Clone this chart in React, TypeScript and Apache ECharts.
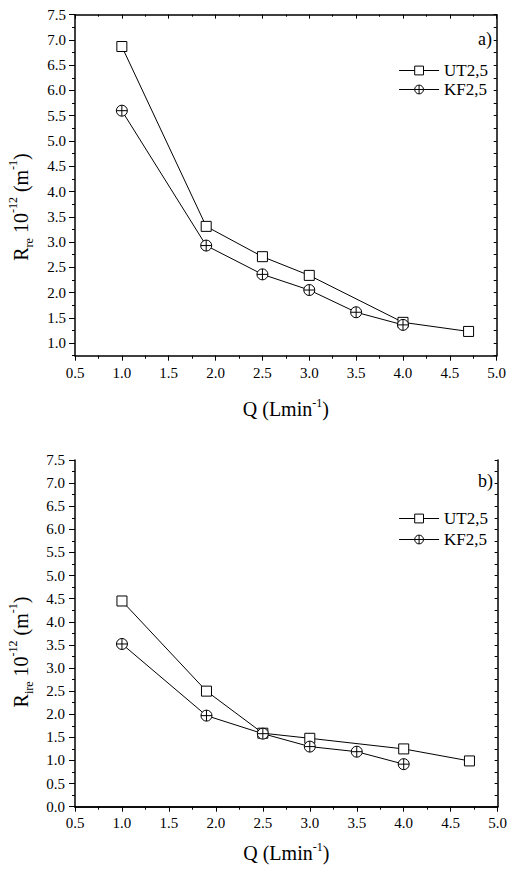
import React, { useEffect, useRef } from "react";
import * as echarts from "echarts";

// ---- data ----
const seriesNames = ["UT2,5", "KF2,5"];
const qA_UT = [1.0, 1.9, 2.5, 3.0, 4.0, 4.7];
const rA_UT = [6.87, 3.31, 2.71, 2.34, 1.41, 1.23];
const qA_KF = [1.0, 1.9, 2.5, 3.0, 3.5, 4.0];
const rA_KF = [5.6, 2.93, 2.36, 2.05, 1.61, 1.36];

const qB_UT = [1.0, 1.9, 2.5, 3.0, 4.0, 4.7];
const rB_UT = [4.45, 2.5, 1.59, 1.48, 1.25, 0.99];
const qB_KF = [1.0, 1.9, 2.5, 3.0, 3.5, 4.0];
const rB_KF = [3.52, 1.97, 1.58, 1.3, 1.19, 0.92];

const topYLabels = [1.0, 1.5, 2.0, 2.5, 3.0, 3.5, 4.0, 4.5, 5.0, 5.5, 6.0, 6.5, 7.0, 7.5];
const topYMinor = [0.75, 1.25, 1.75, 2.25, 2.75, 3.25, 3.75, 4.25, 4.75, 5.25, 5.75, 6.25, 6.75, 7.25];
const panelLabels = ["a)", "b)"];

const FONT = "Times New Roman, Liberation Serif, DejaVu Serif, serif";
const circlePlus =
  "path://M0,10A10,10,0,1,1,20,10A10,10,0,1,1,0,10ZM10,0L10,20M0,10L20,10";

const zip = (xs: number[], ys: number[]) => xs.map((x, i) => [x, ys[i]]);

export default function App() {
  const ref = useRef<HTMLDivElement>(null);
  useEffect(() => {
    if (!ref.current) return;
    const chart = echarts.init(ref.current, null, { renderer: "svg" });
    const axisLine = { show: true, lineStyle: { color: "#000", width: 1.5 } };
    const lbl = { color: "#000", fontFamily: FONT, fontSize: 15 };
    const xBottom = (gi: number, gap: number, margin: number) => ({
      type: "value",
      gridIndex: gi,
      position: "bottom",
      min: 0.5,
      max: 5.0,
      interval: 0.5,
      axisLine,
      axisTick: { show: true, inside: false, length: 5, lineStyle: { color: "#000", width: 1 } },
      minorTick: { show: true, splitNumber: 2, length: 3, lineStyle: { color: "#000", width: 1 } },
      axisLabel: { ...lbl, margin, formatter: (v: number) => v.toFixed(1) },
      splitLine: { show: false },
      minorSplitLine: { show: false },
      name: "{n|Q (Lmin}{sup|-1}{n|)}",
      nameLocation: "middle",
      nameGap: gap,
      nameTextStyle: {
        fontFamily: FONT,
        color: "#000",
        rich: {
          n: { fontFamily: FONT, fontSize: 20, color: "#000", lineHeight: 24, verticalAlign: "middle" },
          sup: { fontFamily: FONT, fontSize: 12, color: "#000", lineHeight: 12, verticalAlign: "top" },
        },
      },
    });
    const xTop = (gi: number) => ({
      type: "value",
      gridIndex: gi,
      position: "top",
      min: 0.5,
      max: 5.0,
      interval: 0.5,
      axisLine,
      axisTick: { show: true, inside: true, length: 4, lineStyle: { color: "#000", width: 1 } },
      minorTick: { show: true, splitNumber: 2, length: 2, lineStyle: { color: "#000", width: 1 } },
      axisLabel: { show: false },
      splitLine: { show: false },
    });

    const series = [
      { name: seriesNames[0], data: zip(qA_UT, rA_UT), xAxisIndex: 0, yAxisIndex: 0, symbol: "rect", symbolSize: 10 },
      { name: seriesNames[1], data: zip(qA_KF, rA_KF), xAxisIndex: 0, yAxisIndex: 0, symbol: circlePlus, symbolSize: 11 },
      { name: seriesNames[0], data: zip(qB_UT, rB_UT), xAxisIndex: 2, yAxisIndex: 3, symbol: "rect", symbolSize: 10 },
      { name: seriesNames[1], data: zip(qB_KF, rB_KF), xAxisIndex: 2, yAxisIndex: 3, symbol: circlePlus, symbolSize: 11 },
    ].map((s) => ({
      ...s,
      type: "line",
      color: "#000",
      showAllSymbol: true,
      lineStyle: { color: "#000", width: 1 },
      itemStyle: { color: "#fff", borderColor: "#000", borderWidth: 1 },
      z: 3,
    }));

    const legendCommon = {
      orient: "vertical",
      right: 17,
      itemWidth: 40,
      itemHeight: 11,
      itemGap: 2,
      textStyle: { fontFamily: FONT, fontSize: 17, color: "#000" },
      lineStyle: { color: "#000", width: 1 },
      itemStyle: { color: "#fff", borderColor: "#000", borderWidth: 1 },
      selectedMode: false,
      data: seriesNames,
    };

    const yTitle = (sub: string) =>
      `{n|R}{sub|${sub}}{n| 10}{sup|-12}{n| (m}{sup|-1}{n|)}`;
    const yTitleRich = {
      n: { fontFamily: FONT, fontSize: 20, fill: "#000", lineHeight: 28, verticalAlign: "middle" },
      sup: { fontFamily: FONT, fontSize: 12, fill: "#000", lineHeight: 12, verticalAlign: "top" },
      sub: { fontFamily: FONT, fontSize: 12, fill: "#000", lineHeight: 12, verticalAlign: "bottom" },
    };

    chart.setOption({
      animation: false,
      backgroundColor: "#fff",
      textStyle: { fontFamily: FONT },
      grid: [
        { left: 75, right: 13.3, top: 14.7, height: 341, containLabel: false },
        { left: 75, right: 8, top: 460, height: 346.7, containLabel: false },
      ],
      xAxis: [xBottom(0, 41, 10), xTop(0), xBottom(1, 34, 9), xTop(1)],
      yAxis: [
        {
          type: "value",
          gridIndex: 0,
          position: "left",
          min: 0.75,
          max: 7.5,
          axisLine,
          axisTick: { show: true, inside: false, length: 6, customValues: topYLabels, lineStyle: { color: "#000", width: 1 } },
          axisLabel: { ...lbl, margin: 9, customValues: topYLabels, formatter: (v: number) => v.toFixed(1) },
          splitLine: { show: false },
        },
        {
          type: "value",
          gridIndex: 0,
          position: "left",
          min: 0.75,
          max: 7.5,
          axisLine: { show: false },
          axisTick: { show: true, inside: false, length: 3, customValues: topYMinor, lineStyle: { color: "#000", width: 1 } },
          axisLabel: { show: false },
          splitLine: { show: false },
        },
        {
          type: "value",
          gridIndex: 0,
          position: "right",
          min: 0.75,
          max: 7.5,
          axisLine,
          axisTick: { show: true, inside: true, length: 3, customValues: [...topYMinor, ...topYLabels], lineStyle: { color: "#000", width: 1 } },
          axisLabel: { show: false },
          splitLine: { show: false },
        },
        {
          type: "value",
          gridIndex: 1,
          position: "left",
          min: 0,
          max: 7.5,
          interval: 0.5,
          axisLine,
          axisTick: { show: true, inside: false, length: 6, lineStyle: { color: "#000", width: 1 } },
          minorTick: { show: true, splitNumber: 2, length: 3, lineStyle: { color: "#000", width: 1 } },
          axisLabel: { ...lbl, margin: 10, formatter: (v: number) => v.toFixed(1) },
          splitLine: { show: false },
          minorSplitLine: { show: false },
        },
        {
          type: "value",
          gridIndex: 1,
          position: "right",
          min: 0,
          max: 7.5,
          interval: 0.5,
          axisLine,
          axisTick: { show: true, inside: true, length: 3, lineStyle: { color: "#000", width: 1 } },
          minorTick: { show: true, splitNumber: 2, length: 3, lineStyle: { color: "#000", width: 1 } },
          axisLabel: { show: false },
          splitLine: { show: false },
          minorSplitLine: { show: false },
        },
      ],
      legend: [
        { ...legendCommon, top: 57 },
        { ...legendCommon, top: 505, itemGap: 4 },
      ],
      series,
      graphic: [
        {
          type: "text",
          right: 18,
          top: 30,
          style: { text: panelLabels[0], fontFamily: FONT, fontSize: 18, fill: "#000" },
        },
        {
          type: "text",
          right: 17,
          top: 472,
          style: { text: panelLabels[1], fontFamily: FONT, fontSize: 18, fill: "#000" },
        },
        {
          type: "text",
          x: 21,
          y: 207,
          rotation: Math.PI / 2,
          style: { text: yTitle("re"), rich: yTitleRich, fontFamily: FONT, align: "center", verticalAlign: "middle" },
        },
        {
          type: "text",
          x: 21,
          y: 652,
          rotation: Math.PI / 2,
          style: { text: yTitle("ire"), rich: yTitleRich, fontFamily: FONT, align: "center", verticalAlign: "middle" },
        },
      ],
    });
    return () => chart.dispose();
  }, []);
  return (
    <div
      ref={ref}
      style={{ position: "fixed", left: 0, top: 0, width: 510, height: 869, background: "#fff" }}
    />
  );
}
